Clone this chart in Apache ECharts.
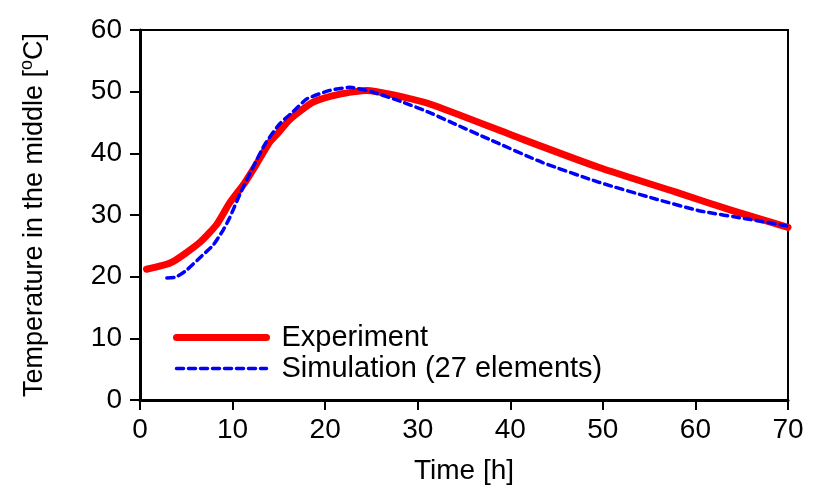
<!DOCTYPE html>
<html>
<head>
<meta charset="utf-8">
<script src="https://cdn.jsdelivr.net/npm/echarts@6/dist/echarts.min.js"></script>
<style>
  html, body { margin: 0; padding: 0; background: #fff; }
  #chart { width: 820px; height: 491px; }
</style>
</head>
<body>
<div id="chart"></div>
<script>
// Measured core temperature over time
var expTime = [0.7, 3.4, 6.5, 8.3, 9.7, 11.3, 12.6, 14.0, 14.8, 16.2, 18.7, 21.6, 24.5, 27.0, 31.3, 41.3, 49.6, 57.9, 64.0, 70.0];
var expTemp = [21.2, 22.3, 25.6, 28.5, 32.0, 35.2, 38.3, 41.8, 43.1, 45.5, 48.3, 49.6, 50.2, 49.6, 48.0, 42.3, 37.7, 33.7, 30.7, 28.0];

// Simulated core temperature (27 elements)
var simTime = [2.9, 3.8, 4.9, 6.7, 7.9, 9.0, 9.7, 10.8, 12.2, 13.5, 15.1, 16.5, 18.0, 20.5, 22.7, 25.2, 28.4, 31.3, 33.8, 37.7, 43.5, 49.6, 55.7, 60.4, 65.8, 70.0];
var simTemp = [19.8, 19.9, 20.9, 23.4, 25.1, 27.6, 29.6, 33.4, 37.7, 41.5, 44.8, 46.7, 48.8, 50.2, 50.7, 49.9, 48.3, 46.6, 44.9, 42.3, 38.5, 35.3, 32.6, 30.7, 29.3, 28.2];

var seriesNames = ['Experiment', 'Simulation (27 elements)'];
var xTitle = 'Time [h]';

function pairs(xs, ys) {
  return xs.map(function (x, i) { return [x, ys[i]]; });
}

var FONT = '"Liberation Sans", Arial, Helvetica, sans-serif';
var FS = 28;
var RED = '#ff0000';
var BLUE = '#0000ff';

var chart = echarts.init(document.getElementById('chart'), null, { renderer: 'canvas' });
chart.setOption({
  animation: false,
  backgroundColor: '#ffffff',
  textStyle: { fontFamily: FONT, color: '#000' },
  grid: {
    left: 140, right: 32, top: 30, bottom: 91,
    show: true, borderColor: '#000', borderWidth: 2, backgroundColor: 'transparent'
  },
  legend: {
    orient: 'vertical',
    left: 173, top: 322, padding: 0,
    itemWidth: 90, itemHeight: 20, itemGap: 0,
    itemStyle: { opacity: 0 },
    textStyle: { fontFamily: FONT, fontSize: 29, color: '#000', lineHeight: 31, padding: [0, 0, 0, 10] },
    data: [
      { name: seriesNames[0], lineStyle: { color: RED, width: 7, cap: 'round' } },
      { name: seriesNames[1], lineStyle: { color: BLUE, width: 3.5, type: [7, 5], cap: 'round' } }
    ]
  },
  xAxis: {
    type: 'value', min: 0, max: 70, interval: 10,
    name: xTitle, nameLocation: 'middle', nameGap: 57,
    nameTextStyle: { fontFamily: FONT, fontSize: FS, color: '#000' },
    axisLine: { show: true, lineStyle: { color: '#000', width: 3 } },
    axisTick: { show: true, inside: false, length: 10, lineStyle: { color: '#000', width: 2 } },
    axisLabel: { margin: 16, fontFamily: FONT, fontSize: FS, color: '#000' },
    splitLine: { show: false }
  },
  yAxis: {
    type: 'value', min: 0, max: 60, interval: 10,
    name: '{a|Temperature in the middle [}{s|o}{a|C]}', nameLocation: 'middle', nameGap: 92, nameRotate: 90,
    nameTextStyle: {
      fontFamily: FONT, fontSize: 27, color: '#000',
      rich: {
        a: { fontFamily: FONT, fontSize: 27, color: '#000', lineHeight: 30, verticalAlign: 'bottom' },
        s: { fontFamily: FONT, fontSize: 18, color: '#000', lineHeight: 30, verticalAlign: 'top' }
      }
    },
    axisLine: { show: true, lineStyle: { color: '#000', width: 3 } },
    axisTick: { show: true, inside: false, length: 10, lineStyle: { color: '#000', width: 2 } },
    axisLabel: { margin: 18, fontFamily: FONT, fontSize: FS, color: '#000' },
    splitLine: { show: false }
  },
  series: [
    {
      name: seriesNames[0], type: 'line', data: pairs(expTime, expTemp),
      symbol: 'none', smooth: 0.2, z: 2,
      lineStyle: { color: RED, width: 7, cap: 'round', join: 'round' },
      itemStyle: { color: RED }
    },
    {
      name: seriesNames[1], type: 'line', data: pairs(simTime, simTemp),
      symbol: 'none', smooth: 0.2, z: 3,
      lineStyle: { color: BLUE, width: 3.5, type: [7, 5], cap: 'round' },
      itemStyle: { color: BLUE }
    }
  ]
});
</script>
</body>
</html>
